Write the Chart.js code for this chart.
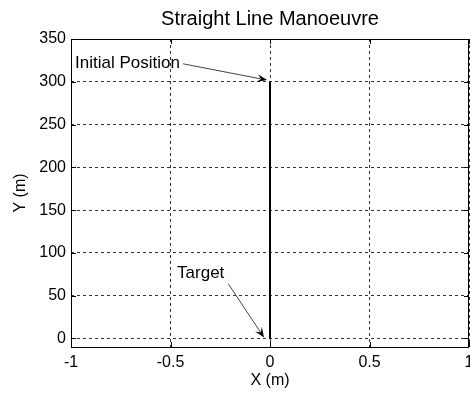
<!DOCTYPE html>
<html>
<head>
<meta charset="utf-8">
<script src="https://cdn.jsdelivr.net/npm/chart.js@4.4.1/dist/chart.umd.min.js"></script>
<style>
  html, body { margin: 0; padding: 0; background: #fff; }
  #wrap { width: 470px; height: 394px; }
</style>
</head>
<body>
<div id="wrap"><canvas id="manoeuvre"></canvas></div>
<script>
  // trajectory: straight line from the initial position down to the target
  var pathX = [0, 0];
  var pathY = [300, 0];

  var xTicks = [-1, -0.5, 0, 0.5, 1];
  var yTicks = [0, 50, 100, 150, 200, 250, 300, 350];

  var chartTitle = 'Straight Line Manoeuvre';

  // annotation labels and their arrows (data units)
  var noteText = ['Initial Position', 'Target'];
  var noteX = [-0.98, -0.467];
  var noteY = [322, 76];
  var tailX = [-0.437, -0.21];
  var tailY = [321, 64];
  var headX = [-0.015, -0.03];
  var headY = [302, 1];

  var FONT = "'Liberation Sans', Arial, sans-serif";

  var points = pathX.map(function (x, i) { return { x: x, y: pathY[i] }; });

  function fixTicks(list) {
    return function (scale) {
      scale.ticks = list.map(function (v) { return { value: v }; });
    };
  }

  // title over the axes, box, inner tick marks and arrow annotations
  var boxPlugin = {
    id: 'boxAndNotes',
    afterDraw: function (chart) {
      var ctx = chart.ctx, a = chart.chartArea;
      var xs = chart.scales.x, ys = chart.scales.y;
      ctx.save();

      ctx.fillStyle = '#000';
      ctx.font = '20px ' + FONT;
      ctx.textAlign = 'center';
      ctx.textBaseline = 'middle';
      ctx.fillText(chartTitle, (a.left + a.right) / 2, 19);

      ctx.strokeStyle = '#000';
      ctx.lineWidth = 1;
      ctx.setLineDash([]);
      ctx.strokeRect(Math.round(a.left) + 0.5, Math.round(a.top) + 0.5,
        Math.round(a.right - a.left) - 1, Math.round(a.bottom - a.top));

      ctx.beginPath();
      xTicks.forEach(function (v) {
        var px = Math.round(xs.getPixelForValue(v)) + 0.5;
        ctx.moveTo(px, a.bottom); ctx.lineTo(px, a.bottom - 5);
        ctx.moveTo(px, a.top); ctx.lineTo(px, a.top + 5);
      });
      yTicks.forEach(function (v) {
        var py = Math.round(ys.getPixelForValue(v)) + 0.5;
        ctx.moveTo(a.left, py); ctx.lineTo(a.left + 5, py);
        ctx.moveTo(a.right, py); ctx.lineTo(a.right - 5, py);
      });
      ctx.stroke();

      ctx.font = '17px ' + FONT;
      ctx.textAlign = 'left';
      ctx.textBaseline = 'middle';
      noteText.forEach(function (t, i) {
        ctx.fillStyle = '#000';
        ctx.fillText(t, xs.getPixelForValue(noteX[i]), ys.getPixelForValue(noteY[i]));

        var x0 = xs.getPixelForValue(tailX[i]), y0 = ys.getPixelForValue(tailY[i]);
        var x1 = xs.getPixelForValue(headX[i]), y1 = ys.getPixelForValue(headY[i]);
        var ang = Math.atan2(y1 - y0, x1 - x0);
        ctx.strokeStyle = '#444';
        ctx.lineWidth = 1;
        ctx.beginPath();
        ctx.moveTo(x0, y0);
        ctx.lineTo(x1 - 6 * Math.cos(ang), y1 - 6 * Math.sin(ang));
        ctx.stroke();

        var len = 10, wid = 4;
        ctx.fillStyle = '#000';
        ctx.beginPath();
        ctx.moveTo(x1, y1);
        ctx.lineTo(x1 - len * Math.cos(ang) + wid * Math.sin(ang),
                   y1 - len * Math.sin(ang) - wid * Math.cos(ang));
        ctx.lineTo(x1 - 0.6 * len * Math.cos(ang), y1 - 0.6 * len * Math.sin(ang));
        ctx.lineTo(x1 - len * Math.cos(ang) - wid * Math.sin(ang),
                   y1 - len * Math.sin(ang) + wid * Math.cos(ang));
        ctx.closePath();
        ctx.fill();
      });
      ctx.restore();
    }
  };

  var ctx = document.getElementById('manoeuvre').getContext('2d');
  new Chart(ctx, {
    type: 'scatter',
    data: {
      datasets: [{
        data: points,
        showLine: true,
        borderColor: '#000',
        borderWidth: 2,
        pointRadius: 0,
        fill: false
      }]
    },
    options: {
      responsive: true,
      maintainAspectRatio: false,
      animation: false,
      layout: { padding: { left: 0, right: 1, top: 39, bottom: 0 } },
      plugins: {
        legend: { display: false },
        tooltip: { enabled: false },
        title: { display: false }
      },
      scales: {
        x: {
          type: 'linear',
          min: -1,
          max: 1,
          afterBuildTicks: fixTicks(xTicks),
          afterFit: function (s) { s.height = 47; s.paddingLeft = 0; s.paddingRight = 0; },
          grid: { color: '#333', lineWidth: 1, drawTicks: false },
          border: { display: false, dash: [3, 3] },
          ticks: {
            color: '#000',
            padding: 6,
            maxRotation: 0,
            font: { family: FONT, size: 16 },
            callback: function (v) { return String(v); }
          },
          title: {
            display: true,
            text: 'X (m)',
            color: '#000',
            font: { family: FONT, size: 16 },
            padding: { top: 0, bottom: 4 }
          }
        },
        y: {
          type: 'linear',
          min: -10,
          max: 350,
          afterBuildTicks: fixTicks(yTicks),
          afterFit: function (s) { s.width = 71; s.paddingTop = 0; s.paddingBottom = 0; },
          grid: { color: '#333', lineWidth: 1, drawTicks: false },
          border: { display: false, dash: [3, 3] },
          ticks: {
            color: '#000',
            padding: 5,
            font: { family: FONT, size: 16 },
            callback: function (v) { return String(v); }
          },
          title: {
            display: true,
            text: 'Y (m)',
            color: '#000',
            font: { family: FONT, size: 16 },
            padding: { top: 11, bottom: 0 }
          }
        }
      }
    },
    plugins: [boxPlugin]
  });
</script>
</body>
</html>
